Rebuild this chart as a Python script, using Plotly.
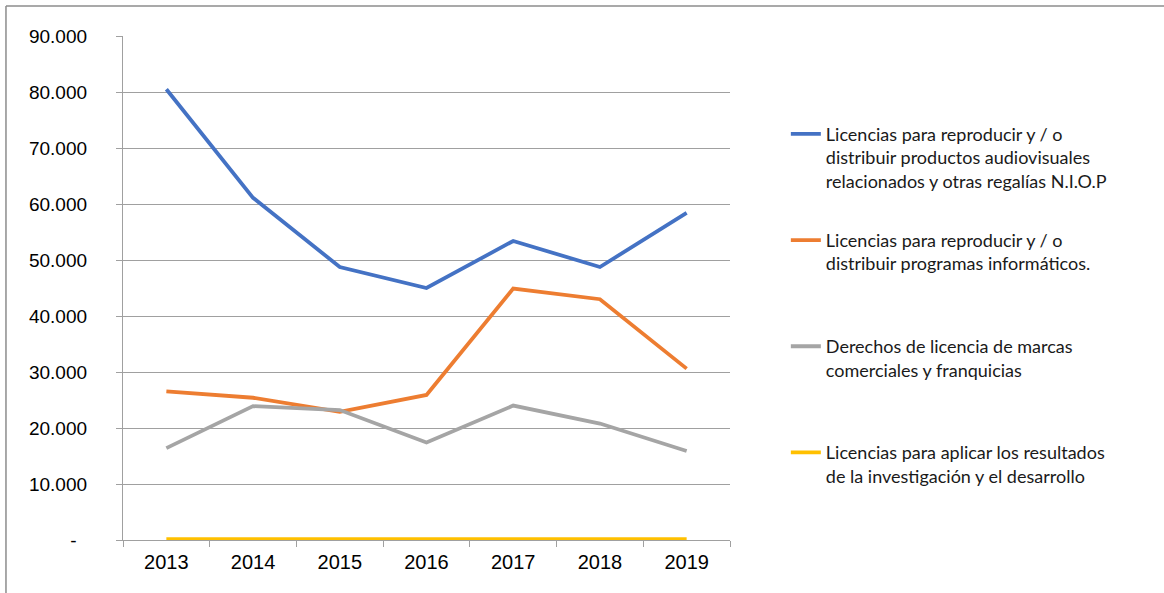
import plotly.graph_objects as go

years = ["2013", "2014", "2015", "2016", "2017", "2018", "2019"]

audiovisuales = [80500, 61100, 48750, 45000, 53400, 48750, 58400]
programas = [26550, 25400, 22900, 25900, 44900, 43000, 30600]
marcas = [16400, 23900, 23200, 17400, 24000, 20800, 15900]
investigacion = [150, 150, 150, 150, 150, 150, 150]

names = [
    "Licencias para reproducir y / o<br>distribuir productos audiovisuales<br>relacionados y otras regalías N.I.O.P",
    "Licencias para reproducir y / o<br>distribuir programas informáticos.<br>&nbsp;",
    "Derechos de licencia de marcas<br>comerciales y franquicias<br>&nbsp;",
    "Licencias para aplicar los resultados<br>de la investigación y el desarrollo",
]
colors = ["#4472C4", "#ED7D31", "#A5A5A5", "#FFC000"]

y_ticks = [0, 10000, 20000, 30000, 40000, 50000, 60000, 70000, 80000, 90000]
y_ticktext = ["-&nbsp;&nbsp;"] + [f"{v:,}".replace(",", ".") for v in y_ticks[1:]]

fig = go.Figure()
for i, (vals, name, col) in enumerate(zip([audiovisuales, programas, marcas, investigacion], names, colors)):
    fig.add_trace(go.Scatter(
        x=years, y=vals, mode="lines", name=name,
        line=dict(color=col, width=3.8),
        legendgroup=f"g{i}",
    ))

grid = "#a0a0a0"
fig.update_layout(
    width=1164, height=593,
    margin=dict(l=123, r=434, t=36, b=53),
    paper_bgcolor="white", plot_bgcolor="white",
    font=dict(family="Liberation Sans, Arial", color="black"),
    showlegend=True,
    legend=dict(
        x=1.092, y=0.842, xanchor="left", yanchor="top",
        font=dict(family="Lato", size=18, color="#1a1a1a"),
        valign="top", tracegroupgap=33,
        bgcolor="rgba(0,0,0,0)",
    ),
    xaxis=dict(
        type="category", range=[-0.5, 6.5],
        tickson="boundaries", ticks="outside", ticklen=6, tickcolor=grid,
        showline=True, linecolor=grid, linewidth=1.3,
        showgrid=False, zeroline=False,
        tickfont=dict(size=20), ticklabelstandoff=4,
    ),
    yaxis=dict(
        range=[0, 90000], tickvals=y_ticks, ticktext=y_ticktext,
        ticks="outside", ticklen=6, tickcolor=grid,
        showline=True, linecolor=grid, linewidth=1.3,
        showgrid=True, gridcolor=grid, gridwidth=1.3, zeroline=False,
        tickfont=dict(size=19), ticklabelstandoff=25,
    ),
    shapes=[
        dict(type="line", xref="paper", yref="paper", x0=-0.1928, x1=1.72, y0=1.0595, y1=1.0595,
             line=dict(color="#8c8c8c", width=1.5)),
        dict(type="line", xref="paper", yref="paper", x0=-0.1928, x1=-0.1928, y0=1.0595, y1=-0.11,
             line=dict(color="#8c8c8c", width=1.5)),
    ],
)

fig.write_html("out.html", config={"displayModeBar": False},
               post_script="document.body.style.margin='0';")
